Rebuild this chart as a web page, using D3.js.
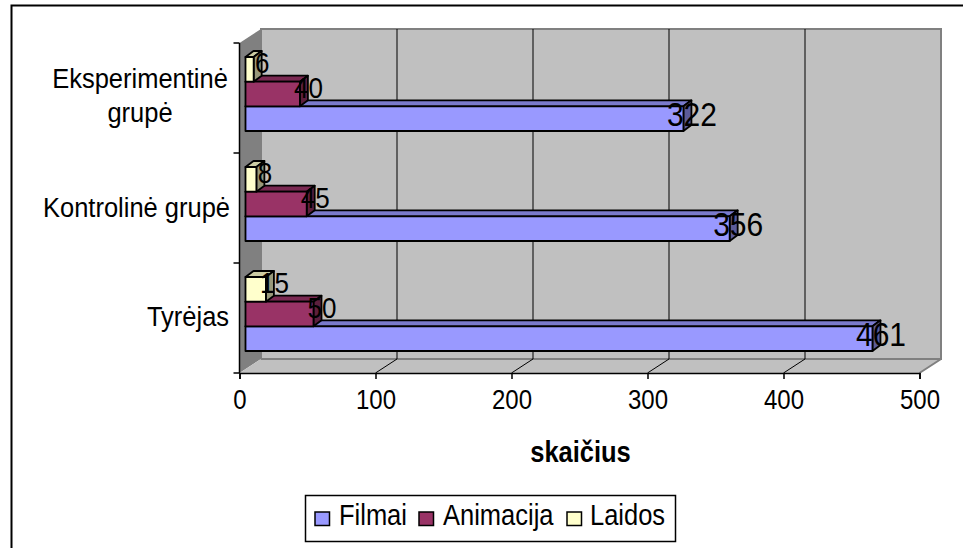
<!DOCTYPE html>
<html><head><meta charset="utf-8">
<script src="https://cdnjs.cloudflare.com/ajax/libs/d3/7.8.5/d3.min.js"></script>
<style>html,body{margin:0;padding:0;background:#fff}svg{display:block}text{font-family:"Liberation Sans",Arial,sans-serif;fill:#000}</style>
</head><body><svg id="c" width="963" height="548"></svg>
<script>
const categories = ["Tyrėjas", "Kontrolinė grupė", "Eksperimentinė grupė"];
const seriesNames = ["Filmai", "Animacija", "Laidos"];
const filmai = [461, 356, 322];
const animacija = [50, 45, 40];
const laidos = [15, 8, 6];
const xTicks = [0, 100, 200, 300, 400, 500];
const colors = {Filmai:["#9999ff","#7a7acc","#5c5c99"],Animacija:["#993366","#7a2952","#5c1f3d"],Laidos:["#ffffcc","#ccccA3","#99997a"]};
const labelSize = {Filmai:30,Animacija:26,Laidos:26};
const values = {Filmai:filmai,Animacija:animacija,Laidos:laidos};
const K = 1.13;
const place = (px,py)=>`translate(${px},${py}) scale(1,${K})`;

const svg = d3.select("#c");
const x = d3.scaleLinear().domain([0,500]).range([239.5,919.5]);
const y = d3.scaleBand().domain(categories).range([373,43]);
const sub = d3.scaleBand().domain(["Laidos","Animacija","Filmai"]).range([14,88]);
const DX=21.5, DY=-14, bx=6, bdx=8, bdy=-6;
const x0=x(0), x1=x(500), yB=373, yT=43;

svg.append("path").attr("d","M11.5,548V5.5H963").attr("fill","none").attr("stroke","#000").attr("stroke-width",2);

// walls
svg.append("polygon").attr("points",[[x0+DX,yT+DY],[x1+DX,yT+DY],[x1+DX,yB+DY],[x0+DX,yB+DY]].join(" ")).attr("fill","#c0c0c0").attr("stroke","#808080").attr("stroke-width",2);
svg.append("polygon").attr("points",[[x0,yT],[x0+DX,yT+DY],[x0+DX,yB+DY],[x0,yB]].join(" ")).attr("fill","#808080");
svg.append("polygon").attr("points",[[x0,yB],[x0+DX,yB+DY],[x1+DX,yB+DY],[x1,yB]].join(" ")).attr("fill","#c0c0c0");
svg.append("path").attr("d",`M${x1},${yB}L${x1+DX},${yB+DY}V${yT+DY}M${x0+DX},${yB+DY}H${x1+DX}`).attr("fill","none").attr("stroke","#808080").attr("stroke-width",2);

// grid
xTicks.slice(1,-1).forEach(t=>{
  svg.append("path").attr("d",`M${x(t)},${yB}L${x(t)+DX},${yB+DY}V${yT+DY}`).attr("fill","none").attr("stroke","#000").attr("stroke-width",1);
});

// axes
const ax = svg.append("g").attr("transform",`translate(0,${yB})`).call(d3.axisBottom(x).tickValues(xTicks).tickSize(6));
ax.attr("font-family",null).attr("font-size",null);
ax.selectAll("text").attr("font-size",24).attr("y",0).attr("dy",0).attr("transform",place(0,36));
ax.selectAll("line,path").attr("stroke","#000").attr("stroke-width",1.5);
const ay = svg.append("g");
ay.append("line").attr("x1",x0).attr("x2",x0).attr("y1",yT).attr("y2",yB).attr("stroke","#000").attr("stroke-width",1.5);
categories.forEach(c=>{ const v=y(c)+y.bandwidth();
  ay.append("line").attr("x1",x0-6).attr("x2",x0).attr("y1",v).attr("y2",v).attr("stroke","#000").attr("stroke-width",1.5);});
ay.append("line").attr("x1",x0-6).attr("x2",x0).attr("y1",yT).attr("y2",yT).attr("stroke","#000").attr("stroke-width",1.5);

// bars
const order = ["Filmai","Animacija","Laidos"];
const labels=[];
categories.forEach((c,ci)=>{
  order.forEach(s=>{
    const v=values[s][ci], top=y(c)+sub(s), h=sub.bandwidth(), l=x(0)+bx, r=x(v)+bx, col=colors[s];
    const g=svg.append("g").attr("stroke","#000").attr("stroke-width",1.8).attr("stroke-linejoin","round");
    g.append("polygon").attr("points",[[l,top],[l+bdx,top+bdy],[r+bdx,top+bdy],[r,top]].join(" ")).attr("fill",col[1]);
    g.append("polygon").attr("points",[[r,top],[r+bdx,top+bdy],[r+bdx,top+h+bdy],[r,top+h]].join(" ")).attr("fill",col[2]);
    g.append("rect").attr("x",l).attr("y",top).attr("width",r-l).attr("height",h).attr("fill",col[0]);
    labels.push({s,v,x:r+8.5,y:top+h/2+ (s==="Filmai"?7:3.5)});
  });
});
svg.selectAll("text.dl").data(labels).join("text").attr("class","dl")
  .attr("transform",d=>place(d.x,d.y)).attr("text-anchor","middle")
  .attr("font-size",d=>labelSize[d.s]).text(d=>d.v);

// category labels
const catLines = {"Tyrėjas":[["Tyrėjas",188,326]],"Kontrolinė grupė":[["Kontrolinė grupė",136.5,216.5]],"Eksperimentinė grupė":[["Eksperimentinė",140,88],["grupė",140,122]]};
categories.forEach(c=>{
  catLines[c].forEach(([l,px,py])=>svg.append("text").attr("text-anchor","middle").attr("font-size",25.5).attr("transform",`translate(${px},${py}) scale(1,1.07)`).text(l));
});
// axis title
svg.append("text").attr("transform",place(580.5,462)).attr("text-anchor","middle").attr("font-size",25.5).attr("font-weight","bold").text("skaičius");

// legend
svg.append("rect").attr("x",305.5).attr("y",495.5).attr("width",370).attr("height",46).attr("fill","#fff").attr("stroke","#000").attr("stroke-width",1.5);
const lx={Filmai:[315,339],Animacija:[419,443],Laidos:[567,590]};
seriesNames.forEach(s=>{
  svg.append("rect").attr("x",lx[s][0]).attr("y",512).attr("width",14.5).attr("height",13.5).attr("fill",colors[s][0]).attr("stroke","#000").attr("stroke-width",1.5);
  svg.append("text").attr("transform",place(lx[s][1],524.5)).attr("font-size",25.5).text(s);
});
</script></body></html>
